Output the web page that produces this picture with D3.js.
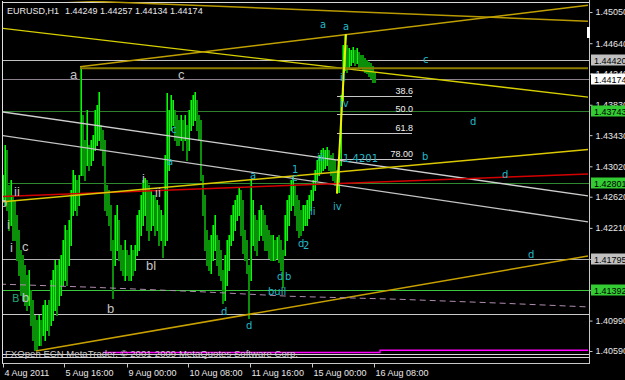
<!DOCTYPE html>
<html>
<head>
<meta charset="utf-8">
<script src="https://cdn.jsdelivr.net/npm/d3@7"></script>
<style>
html, body { margin: 0; padding: 0; background: #000; }
svg { display: block; }
text { font-family: "Liberation Sans", Arial, sans-serif; }
</style>
</head>
<body>
<svg id="chart" width="625" height="380"></svg>
<script>
// EURUSD H1 bars, high and low per bar
const highs = [1.4291,1.4330,1.4324,1.4278,1.4284,1.4264,1.4258,1.4238,1.4218,1.4192,
  1.4185,1.4172,1.4159,1.4166,1.4139,1.4126,1.4106,1.4100,1.4106,1.4100,
  1.4120,1.4126,1.4120,1.4126,1.4153,1.4166,1.4179,1.4172,1.4179,1.4185,
  1.4205,1.4225,1.4218,1.4232,1.4271,1.4297,1.4291,1.4284,1.4291,1.4433,
  1.4370,1.4337,1.4376,1.4330,1.4337,1.4343,1.4376,1.4383,1.4400,1.4357,
  1.4350,1.4337,1.4278,1.4271,1.4251,1.4205,1.4238,1.4251,1.4232,1.4199,
  1.4192,1.4205,1.4192,1.4185,1.4199,1.4192,1.4199,1.4238,1.4245,1.4264,
  1.4284,1.4287,1.4284,1.4278,1.4271,1.4264,1.4264,1.4258,1.4251,1.4245,
  1.4238,1.4317,1.4399,1.4376,1.4396,1.4389,1.4376,1.4370,1.4363,1.4370,
  1.4363,1.4370,1.4357,1.4376,1.4389,1.4396,1.4400,1.4389,1.4370,1.4363,
  1.4291,1.4264,1.4218,1.4205,1.4212,1.4225,1.4238,1.4212,1.4205,1.4192,
  1.4166,1.4185,1.4205,1.4212,1.4238,1.4251,1.4258,1.4264,1.4275,1.4271,
  1.4258,1.4218,1.4205,1.4172,1.4284,1.4258,1.4238,1.4232,1.4245,1.4251,
  1.4245,1.4238,1.4225,1.4218,1.4212,1.4212,1.4205,1.4209,1.4212,1.4205,
  1.4192,1.4238,1.4258,1.4264,1.4284,1.4288,1.4278,1.4264,1.4258,1.4245,
  1.4251,1.4251,1.4258,1.4264,1.4271,1.4284,1.4297,1.4310,1.4317,1.4324,
  1.4326,1.4324,1.4328,1.4324,1.4317,1.4320,1.4310,1.4297,1.4310,1.4396,
  1.4462,1.4476,1.4462,1.4458,1.4455,1.4459,1.4455,1.4458,1.4453,1.4449,
  1.4449,1.4445,1.4442,1.4439,1.4438,1.4434,1.4426];
const lows = [1.4258,1.4251,1.4245,1.4218,1.4225,1.4205,1.4205,1.4179,1.4159,1.4133,
  1.4126,1.4120,1.4113,1.4120,1.4093,1.4074,1.4060,1.4060,1.4067,1.4067,
  1.4080,1.4074,1.4087,1.4080,1.4093,1.4100,1.4113,1.4106,1.4120,1.4133,
  1.4146,1.4153,1.4146,1.4172,1.4199,1.4238,1.4245,1.4238,1.4251,1.4291,
  1.4291,1.4284,1.4304,1.4297,1.4304,1.4310,1.4324,1.4330,1.4337,1.4324,
  1.4304,1.4245,1.4238,1.4225,1.4192,1.4129,1.4172,1.4192,1.4179,1.4166,
  1.4159,1.4153,1.4159,1.4153,1.4153,1.4159,1.4166,1.4185,1.4192,1.4212,
  1.4225,1.4238,1.4218,1.4205,1.4218,1.4225,1.4212,1.4218,1.4199,1.4205,
  1.4183,1.4199,1.4205,1.4297,1.4350,1.4357,1.4337,1.4330,1.4330,1.4337,
  1.4324,1.4337,1.4310,1.4324,1.4350,1.4357,1.4363,1.4350,1.4337,1.4284,
  1.4238,1.4192,1.4172,1.4166,1.4162,1.4179,1.4192,1.4172,1.4159,1.4153,
  1.4122,1.4126,1.4146,1.4166,1.4199,1.4205,1.4218,1.4232,1.4238,1.4212,
  1.4188,1.4179,1.4162,1.4102,1.4153,1.4199,1.4192,1.4185,1.4205,1.4212,
  1.4205,1.4192,1.4192,1.4181,1.4179,1.4179,1.4179,1.4181,1.4176,1.4166,
  1.4143,1.4185,1.4205,1.4225,1.4245,1.4251,1.4238,1.4218,1.4209,1.4212,
  1.4218,1.4225,1.4225,1.4234,1.4245,1.4258,1.4271,1.4284,1.4291,1.4295,
  1.4297,1.4300,1.4304,1.4297,1.4291,1.4284,1.4278,1.4268,1.4268,1.4304,
  1.4389,1.4429,1.4426,1.4431,1.4435,1.4439,1.4435,1.4438,1.4433,1.4431,
  1.4429,1.4426,1.4425,1.4421,1.4418,1.4413,1.4413];

// axis ticks
const priceTicks = [1.4505,1.4464,1.4424,1.4383,1.4343,1.4302,1.4262,1.4221,1.4180,1.4139,1.4099,1.4059];
const timeBars = [0, 30.5, 62, 92.5, 123.5, 154.5, 185.5];
const timeLabels = ["4 Aug 2011","5 Aug 16:00","9 Aug 00:00","10 Aug 08:00","11 Aug 16:00","15 Aug 00:00","16 Aug 08:00"];

// horizontal price levels
const levels = [1.45176, 1.4442, 1.44174, 1.43743, 1.42801, 1.41795, 1.41392, 1.4108, 1.4055, 1.4051];
const levelTags = [null, "1.44420", "1.44174", "1.43743", "1.42801", "1.41795", "1.41392", null, null, null];

// trend lines, [bar, price] points
const yellowTop = [[-1.5, 1.4484], [292.5, 1.4393]];
const goldTop = [[-1.5, 1.4524], [292.5, 1.4493]];
const goldRise = [[38.5, 1.4433], [292.5, 1.4514]];
const oliveLevel = [[38.5, 1.4431], [292.5, 1.4431]];
const whiteFan1 = [[-1.5, 1.4374], [292.5, 1.4263]];
const whiteFan2 = [[-1.5, 1.4343], [292.5, 1.4229]];
const redLine = [[-1.5, 1.4262], [292.5, 1.4292]];
const yellowRise = [[-1.5, 1.4255], [292.5, 1.4324]];
const goldBottom = [[16.5, 1.4059], [292.5, 1.4184]];
const plumDash = [[-1.5,1.4147],[43.5,1.4143],[98.5,1.4137],[143.5,1.4131],[198.5,1.4127],[248.5,1.4122],[292.5,1.4117]];
const magentaLine = [[50, 1.4057], [188.5, 1.4057], [188.5, 1.4060], [292.5, 1.4060]];

// fibonacci retracement
const fibLow = [167, 1.4266];
const fibHigh = [171.5, 1.4476];
const fibRatios = [0.386, 0.5, 0.618, 0.78];
const fibNames = ["38.6", "50.0", "61.8", "78.00"];
const fibEnd = 204.5;

// wave labels [text, bar, price]
const cyanNotes = [["a",158.5,1.4484],["a",170,1.4482],["c",210,1.4438],["ii",168.5,1.4414],["iv",168.5,1.4380],
  ["d",233.5,1.4357],["b",209.5,1.4310],["d",249.5,1.4287],["d",262.5,1.4181],["iii",157,1.4309],
  ["1.4201",170,1.4308],["1",144.5,1.4293],["c",144.5,1.4283],["a",123.5,1.4285],["a",82,1.4304],
  ["c",84,1.4346],["iv",165,1.4245],["ii",153.5,1.4238],["d",147.5,1.4196],["2",150,1.4193],
  ["d",137,1.4153],["b",141,1.4153],["bull",132.5,1.4133],["d",109,1.4106],["d",121.5,1.4088]];
const grayNotes = [["a",33.5,1.4417],["c",87.5,1.4417],["b",52,1.4109],["bl",71.5,1.4166],["b",9.5,1.4124],
  ["c",9.5,1.4191],["i",3.5,1.4189],["i",2,1.4220],["ii",5.5,1.4263],["i",69.5,1.4280],["ii",76,1.4261],["b",-1.5,1.4249]];
const tealNotes = [["B",4.5,1.4124]];

const svg = d3.select("#chart");
svg.append("rect").attr("width", 625).attr("height", 380).style("fill", "#000");

const x = d3.scaleLinear().domain([0, 292.5]).range([3, 588]);
const y = d3.scaleLinear().domain([1.40432, 1.45182]).range([363, 2]);

svg.append("clipPath").attr("id", "plotclip")
  .append("rect").attr("x", 3).attr("y", 1).attr("width", 586).attr("height", 362);

const plot = svg.append("g").attr("clip-path", "url(#plotclip)");
const line = d3.line().x(d => x(d[0])).y(d => y(d[1]));

// horizontal levels
const levelColors = ["#d8d8d8", "#c0c0c0", "#8c808c", "#2f7f2f", "#2f8a2f", "#b0b0b0", "#3cc83c", "#c8c8c8", "#d8d8d8", "#d8d8d8"];
plot.append("g").selectAll("line").data(levels).join("line")
  .attr("x1", 3).attr("x2", 589)
  .attr("y1", d => Math.round(y(d)) + 0.5).attr("y2", d => Math.round(y(d)) + 0.5)
  .style("stroke", (d, i) => levelColors[i]).style("stroke-width", 1);

// bars: dark green body column, up hours get a lime stroke on top
const bars = highs.map((h, i) => ({ i: i, h: h, l: lows[i],
  up: i === 0 || h + lows[i] >= highs[i - 1] + lows[i - 1] }));
const barG = plot.append("g").attr("class", "bars").selectAll("g").data(bars).join("g");
barG.append("rect")
  .attr("x", d => Math.round(x(d.i)) - 1)
  .attr("y", d => Math.round(y(d.h)))
  .attr("width", 2)
  .attr("height", d => Math.round(y(d.l)) - Math.round(y(d.h)) + 1)
  .style("fill", "#0b8f0b");
barG.filter(d => d.up).append("rect")
  .attr("x", d => Math.round(x(d.i)))
  .attr("y", d => Math.round(y(d.h)))
  .attr("width", 1)
  .attr("height", d => Math.round(y(d.l)) - Math.round(y(d.h)) + 1)
  .style("fill", "#00ff00");

// trend lines
const trends = [
  [yellowTop, "#d8d000", 1.3], [goldTop, "#b89a00", 1.5], [goldRise, "#c0a000", 1.5],
  [oliveLevel, "#8c7c00", 2], [whiteFan1, "#cfcfcf", 1.3], [whiteFan2, "#c4c4c4", 1.3],
  [redLine, "#d40000", 1.5], [yellowRise, "#dcc800", 1.5], [goldBottom, "#c8a000", 1.5]
];
plot.append("g").selectAll("path").data(trends).join("path")
  .attr("d", d => line(d[0])).style("fill", "none")
  .style("stroke", d => d[1]).style("stroke-width", d => d[2]);

plot.append("path").attr("d", line(plumDash)).style("fill", "none")
  .style("stroke", "#b08cb0").style("stroke-dasharray", "6,4").style("stroke-width", 1);
plot.append("path").attr("d", line(magentaLine)).style("fill", "none")
  .style("stroke", "#ff00ff").style("stroke-width", 1.3);

// fibonacci
const fibRange = fibHigh[1] - fibLow[1];
const fibLevels = fibRatios.map(r => fibHigh[1] - r * fibRange);
plot.append("g").selectAll("line").data(fibLevels).join("line")
  .attr("x1", x(fibLow[0])).attr("x2", x(fibEnd))
  .attr("y1", d => Math.round(y(d)) + 0.5).attr("y2", d => Math.round(y(d)) + 0.5)
  .style("stroke", "#c8c8c8");
plot.append("g").selectAll("text").data(fibLevels).join("text")
  .attr("x", x(fibEnd) + 1).attr("y", d => y(d) - 2)
  .attr("text-anchor", "end").attr("font-size", 9).style("fill", "#f0f0f0")
  .text((d, i) => fibNames[i]);
plot.append("path").attr("d", line([fibLow, fibHigh])).style("fill", "none")
  .style("stroke", "#f0f000").style("stroke-width", 2);

// wave labels
function notes(list, color, size, family) {
  plot.append("g").selectAll("text").data(list).join("text")
    .attr("x", d => x(d[1])).attr("y", d => y(d[2]))
    .attr("font-size", size).style("fill", color)
    .style("font-family", family)
    .text(d => d[0]);
}
notes(grayNotes, "#c4c4c4", 13, "'Liberation Sans', Arial, sans-serif");
notes(cyanNotes, "#22b8c8", 10, "'DejaVu Sans', sans-serif");
notes(tealNotes, "#20a070", 11, "'DejaVu Sans', sans-serif");

// frame
svg.append("line").attr("x1", 2.5).attr("x2", 2.5).attr("y1", 1).attr("y2", 363).style("stroke", "#e0e0e0");
svg.append("line").attr("x1", 589.5).attr("x2", 589.5).attr("y1", 0).attr("y2", 364).style("stroke", "#c8c8c8");
svg.append("line").attr("x1", 2).attr("x2", 590).attr("y1", 363.5).attr("y2", 363.5).style("stroke", "#c8c8c8");

// price axis
const yAxis = svg.append("g").attr("transform", "translate(589.5,0)")
  .call(d3.axisRight(y).tickValues(priceTicks).tickFormat(d3.format(".5f")).tickSize(3).tickPadding(3));
yAxis.select(".domain").remove();
yAxis.selectAll("line").style("stroke", "#c8c8c8");
yAxis.selectAll("text").style("fill", "#e8e8e8").attr("font-size", 9).style("font-family", "'Liberation Sans', Arial, sans-serif");

// price tags
const tagFill = [null, "#c0c0c0", "#ffffff", "#33cc33", "#33cc33", "#c0c0c0", "#33cc33", null, null, null];
const tags = levels.map((v, i) => ({ v: v, t: levelTags[i], f: tagFill[i] })).filter(d => d.t);
const tagG = svg.append("g").selectAll("g").data(tags).join("g")
  .attr("transform", d => `translate(591,${Math.round(y(d.v))})`);
tagG.append("rect").attr("x", 0).attr("y", -5.5).attr("width", 36).attr("height", 11).style("fill", d => d.f);
tagG.append("text").attr("x", 3).attr("y", 3.5).attr("font-size", 9).style("fill", "#000").text(d => d.t);

// chart shift marker
svg.append("rect").attr("x", 587).attr("y", 27).attr("width", 3).attr("height", 11).style("fill", "#ffffff");

// time axis
const xAxis = svg.append("g").attr("transform", "translate(0,363.5)")
  .call(d3.axisBottom(x).tickValues(timeBars).tickFormat((d, i) => timeLabels[i]).tickSize(4).tickPadding(2));
xAxis.select(".domain").remove();
xAxis.selectAll("line").style("stroke", "#c8c8c8");
xAxis.selectAll("text").attr("text-anchor", "start").attr("dx", 1).style("fill", "#e8e8e8")
  .attr("font-size", 9).style("font-family", "'Liberation Sans', Arial, sans-serif");

// title and copyright
svg.append("text").attr("x", 7).attr("y", 13.5).attr("font-size", 9).style("fill", "#e8e8e8").text("EURUSD,H1");
svg.append("text").attr("x", 65).attr("y", 13.5).attr("font-size", 9).style("fill", "#e8e8e8")
  .text("1.44249 1.44257 1.44134 1.44174");
svg.append("text").attr("x", 5).attr("y", 357).attr("font-size", 9.5).style("fill", "#c8c8c8")
  .attr("textLength", 293).attr("lengthAdjust", "spacing")
  .text("FXOpen ECN MetaTrader, \u00a9 2001-2009 MetaQuotes Software Corp.");
</script>
</body>
</html>
